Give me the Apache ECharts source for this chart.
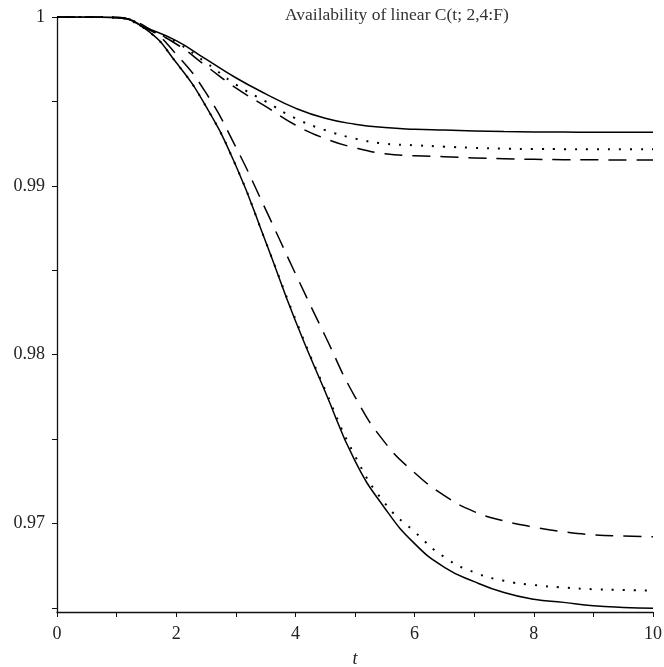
<!DOCTYPE html>
<html>
<head>
<meta charset="utf-8">
<script src="https://cdn.jsdelivr.net/npm/echarts@6/dist/echarts.min.js"></script>
<style>
    html, body { margin: 0; padding: 0; background: #fff; }
    #grafico { width: 664px; height: 667px; }
</style>
</head>
<body>
<div id="grafico"></div>
<script>
// t values
var tiempos = [0, 0.5, 1, 1.5, 2, 2.5, 3, 3.5, 4, 4.5, 5, 5.5, 6, 6.5, 7, 7.5, 8, 8.5, 9, 9.5, 10];

// upper group
var superior_solida = [1, 1, 0.99998, 0.99935, 0.9986, 0.9975, 0.9964, 0.99545, 0.9946, 0.994, 0.99365, 0.99345, 0.99335, 0.9933, 0.99325, 0.99321, 0.99319, 0.99318, 0.99317, 0.99317, 0.99317];
var superior_punteada = [1, 1, 0.99998, 0.9993, 0.9985, 0.9973, 0.996, 0.995, 0.994, 0.9933, 0.9928, 0.9925, 0.9924, 0.99232, 0.99225, 0.9922, 0.99218, 0.99217, 0.99216, 0.99216, 0.99216];
var superior_rayada = [1, 1, 0.99998, 0.9993, 0.9984, 0.9971, 0.9958, 0.9947, 0.9936, 0.9928, 0.99225, 0.9919, 0.99178, 0.99172, 0.99165, 0.9916, 0.99157, 0.99155, 0.99154, 0.99153, 0.99153];

// lower group
var inferior_solida = [1, 1, 0.99995, 0.99925, 0.9973, 0.9947, 0.9912, 0.9867, 0.982, 0.9778, 0.9737, 0.9709, 0.9688, 0.9674, 0.96655, 0.9659, 0.9655, 0.96532, 0.96512, 0.96502, 0.96497];
var inferior_punteada = [1, 1, 0.99995, 0.99925, 0.9973, 0.9947, 0.9912, 0.9867, 0.9821, 0.9779, 0.974, 0.9712, 0.9695, 0.968, 0.9671, 0.9666, 0.96635, 0.9662, 0.9661, 0.96605, 0.96601];
var inferior_rayada = [1, 1, 0.99995, 0.9994, 0.9978, 0.9955, 0.9923, 0.9886, 0.9848, 0.9811, 0.9775, 0.9748, 0.973, 0.97165, 0.9707, 0.97015, 0.96978, 0.9695, 0.96932, 0.96925, 0.96921];

// ticks
var ticks_y = [0.965, 0.97, 0.975, 0.98, 0.985, 0.99, 0.995, 1];
var etiquetas_y = [0.97, 0.98, 0.99, 1];

var titulo = 'Availability of linear C(t; 2,4:F)';
var fuente = "'Liberation Serif', 'DejaVu Serif', serif";

function armar_puntos(valores) {
    var puntos = [];
    for (var i = 0; i < tiempos.length; i++) {
        puntos.push([tiempos[i], valores[i]]);
    }
    return puntos;
}

function armar_serie(valores, tipo) {
    var estilo = { color: '#000', width: 1.5 };
    if (tipo == 'punteada') {
        estilo.type = [2, 9];
        estilo.width = 2;
    } else if (tipo == 'rayada') {
        estilo.type = [18, 10];
    } else {
        estilo.type = 'solid';
    }
    return {
        type: 'line',
        data: armar_puntos(valores),
        smooth: 0.5,
        symbol: 'none',
        silent: true,
        lineStyle: estilo
    };
}

var myChart01 = echarts.init(document.getElementById('grafico'));

var option = {
    animation: false,
    backgroundColor: '#fff',
    title: {
        text: titulo,
        left: 280,
        top: 1,
        textStyle: { fontFamily: fuente, fontSize: 17.5, fontWeight: 'normal', color: '#333' }
    },
    grid: { left: 57, right: 11, top: 17, bottom: 55, containLabel: false, outerBoundsMode: 'none' },
    xAxis: {
        type: 'value',
        min: 0,
        max: 10,
        interval: 1,
        name: 't',
        nameLocation: 'middle',
        nameGap: 38,
        nameTextStyle: { fontFamily: fuente, fontSize: 18, fontStyle: 'italic', color: '#222' },
        axisLine: { show: true, onZero: false, lineStyle: { color: '#111', width: 1.3 } },
        axisTick: { show: true, length: 5, lineStyle: { color: '#111' } },
        axisLabel: {
            margin: 13,
            fontFamily: fuente,
            fontSize: 18,
            color: '#222',
            formatter: function (v) { return v % 2 == 0 ? String(v) : ''; }
        },
        splitLine: { show: false }
    },
    yAxis: {
        type: 'value',
        min: 0.96475,
        max: 1,
        axisLine: { show: true, onZero: false, lineStyle: { color: '#111', width: 1.3 } },
        axisTick: { show: true, length: 5, customValues: ticks_y, lineStyle: { color: '#111' } },
        axisLabel: {
            margin: 12,
            fontFamily: fuente,
            fontSize: 18,
            color: '#222',
            customValues: etiquetas_y,
            formatter: function (v) { return v == 1 ? '1' : v.toFixed(2); }
        },
        splitLine: { show: false }
    },
    series: [
        armar_serie(superior_solida, 'solida'),
        armar_serie(superior_punteada, 'punteada'),
        armar_serie(superior_rayada, 'rayada'),
        armar_serie(inferior_solida, 'solida'),
        armar_serie(inferior_punteada, 'punteada'),
        armar_serie(inferior_rayada, 'rayada')
    ]
};

myChart01.setOption(option, true);
</script>
</body>
</html>
